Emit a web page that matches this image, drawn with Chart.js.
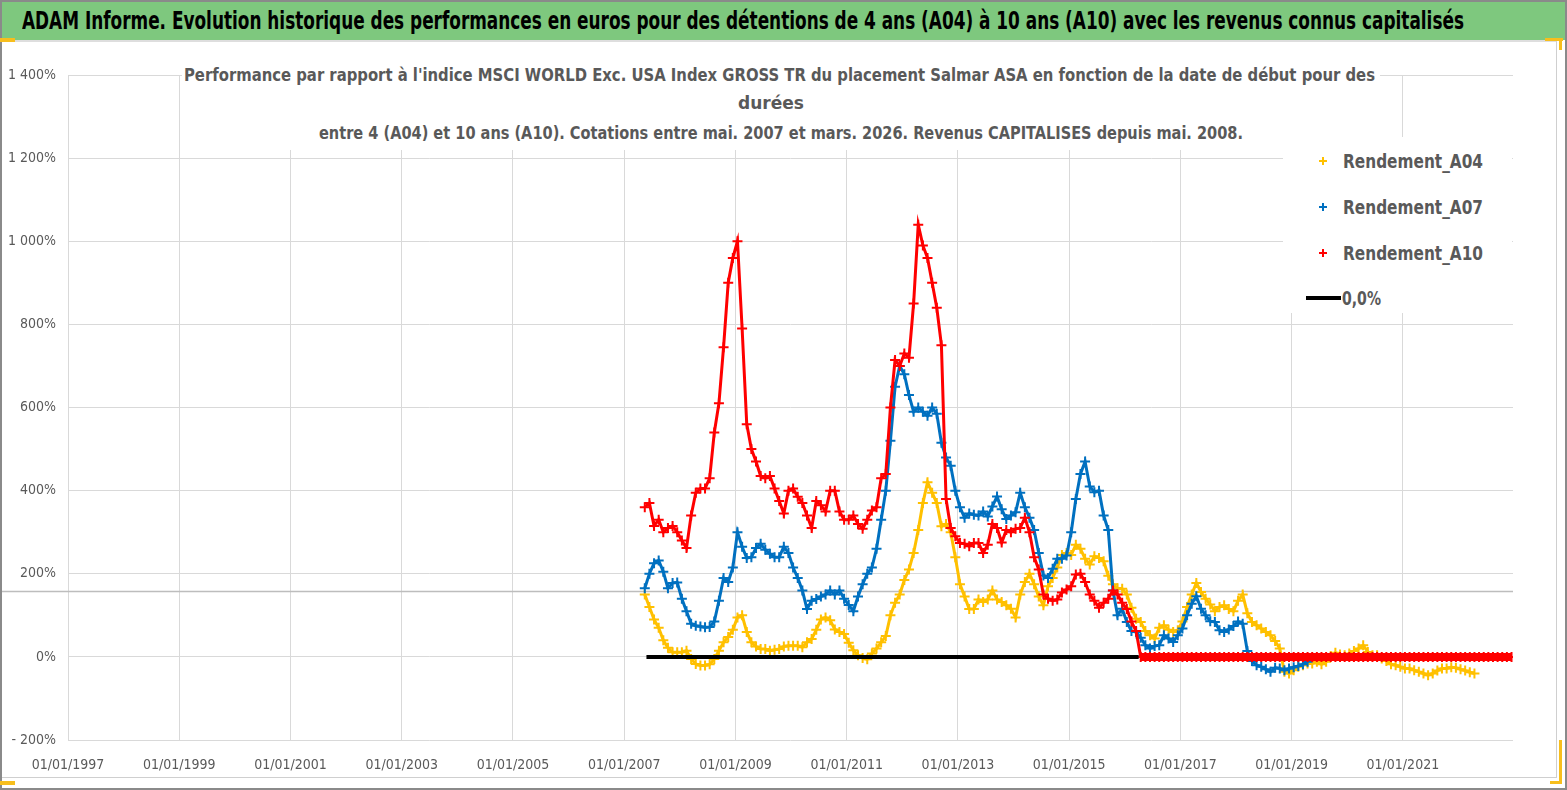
<!DOCTYPE html>
<html>
<head>
<meta charset="utf-8">
<script src="https://cdn.jsdelivr.net/npm/chart.js@4.4.1/dist/chart.umd.min.js"></script>
<style>
  html, body { margin: 0; padding: 0; background: #fff; }
  #frame { position: absolute; left: 0; top: 0; width: 1567px; height: 790px; overflow: hidden; background: #fff; }
  #border { position: absolute; left: 0; top: 0; width: 1567px; height: 790px; box-sizing: border-box; border: 2px solid #8a8a8a; pointer-events: none; z-index: 10; }
  #header { position: absolute; left: 2px; top: 2px; width: 1563px; height: 38px; background: #7ec87e; }
  #chartbox { position: absolute; left: 0; top: 40px; width: 1557px; height: 738px; box-sizing: border-box; border-top: 2px solid #dedede; border-right: 1px solid #cfcfcf; border-bottom: 1px solid #cfcfcf; }
  #wrap { position: absolute; left: 0; top: 42px; width: 1556px; height: 736px; }
  .txt { position: absolute; white-space: nowrap; transform-origin: 0 50%; font-family: 'Liberation Sans Narrow', 'DejaVu Sans Condensed', 'Open Sans', sans-serif; }
  #title { left: 22px; top: 6px; height: 30px; line-height: 30px; font-size: 24px; font-weight: bold; color: #000; }
  #subbox { position: absolute; left: 182px; top: 61px; width: 1198px; height: 89px; background: #fff; }
  .sub { font-size: 18px; font-weight: bold; color: #595959; height: 24px; line-height: 24px; }
  #legend { position: absolute; left: 1283px; top: 137px; width: 229px; height: 176px; background: #fff; }
  .leg { font-size: 19px; font-weight: bold; color: #595959; height: 26px; line-height: 26px; }
  .cross { position: absolute; width: 8px; height: 8px; }
  .cross:before { content: ''; position: absolute; left: 0; top: 3px; width: 8px; height: 2px; background: currentColor; }
  .cross:after { content: ''; position: absolute; left: 3px; top: 0; width: 2px; height: 8px; background: currentColor; }
  .handle { position: absolute; background: #f7be1d; z-index: 11; }
</style>
</head>
<body>
<div id="frame">
  <div id="header"></div>
  <div class="txt" id="title" data-w="1442">ADAM Informe. Evolution historique des performances en euros pour des détentions de 4 ans (A04) à 10 ans (A10) avec les revenus connus capitalisés</div>
  <div id="chartbox"></div>
  <div id="wrap"><canvas id="chart"></canvas></div>
  <div id="subbox"></div>
  <div class="txt sub" style="left:184px; top:63px;" data-w="1191">Performance par rapport à l'indice MSCI WORLD Exc. USA Index GROSS TR  du placement Salmar ASA en fonction de la date de début pour des</div>
  <div class="txt sub" style="left:738px; top:91px;" data-w="66">durées</div>
  <div class="txt sub" style="left:319px; top:121px;" data-w="924">entre 4 (A04) et 10 ans (A10). Cotations entre mai. 2007 et mars. 2026. Revenus CAPITALISES depuis mai. 2008.</div>
  <div id="legend"></div>
  <div class="cross" style="left:1319px; top:157px; color:#ffc000;"></div>
  <div class="txt leg" style="left:1343px; top:148px;" data-w="140">Rendement_A04</div>
  <div class="cross" style="left:1319px; top:203px; color:#0070c0;"></div>
  <div class="txt leg" style="left:1343px; top:194px;" data-w="140">Rendement_A07</div>
  <div class="cross" style="left:1319px; top:249px; color:#ff0000;"></div>
  <div class="txt leg" style="left:1343px; top:240px;" data-w="140">Rendement_A10</div>
  <div style="position:absolute; left:1306px; top:296px; width:35px; height:4px; background:#000;"></div>
  <div class="txt leg" style="left:1342px; top:285px;" data-w="39">0,0%</div>
  <div class="handle" style="left:0px; top:38px; width:15px; height:4px;"></div>
  <div class="handle" style="left:1545px; top:38px; width:18px; height:3px;"></div>
  <div class="handle" style="left:1559px; top:38px; width:3px; height:12px;"></div>
  <div class="handle" style="left:1559px; top:740px; width:3px; height:44px;"></div>
  <div class="handle" style="left:1550px; top:781px; width:12px; height:3px;"></div>
  <div class="handle" style="left:0px; top:781px; width:15px; height:4px;"></div>
  <div id="border"></div>
</div>
<script>
// ---------- DATA (monthly, start = May 2007) ----------
const seriesStart = 2007.37;          // decimal year of first start date
const stepYears = 1 / 12;             // one value per month

const rendementA04 = [150,120,90,70,40,22,11,11,11,15,
 -5,-17,-21,-21,-18,-5,15,35,48,65,
 95,100,60,35,25,19,19,15,17,19,
 25,27,27,27,23,35,43,65,90,95,
 88,66,60,55,34,16,4,-3,-6,8,
 20,35,50,100,130,150,185,210,250,305,
 370,420,395,370,314,320,300,240,175,145,
 115,115,138,132,138,160,138,132,124,116,
 95,150,180,200,175,145,124,170,190,215,
 245,250,245,270,260,236,222,242,238,230,
 195,175,165,164,150,118,92,84,62,52,
 44,70,76,65,60,64,85,120,150,178,
 156,140,126,110,120,124,115,110,135,150,
 105,84,76,68,60,52,38,20,-36,-40,
 -32,-24,-20,-16,-16,-12,-18,-12,2,10,
 6,4,8,14,20,28,12,4,4,-4,
 -10,-18,-20,-24,-28,-28,-32,-36,-40,-44,
 -40,-33,-28,-28,-25,-26,-30,-33,-37,-40];

const rendementA07 = [165,200,225,232,205,165,178,179,140,110,
 80,75,73,71,72,85,135,190,180,215,
 300,265,238,240,262,272,258,248,240,240,
 265,250,215,190,160,115,135,139,145,150,
 160,150,160,140,125,110,145,175,200,215,
 260,330,400,520,650,700,680,630,590,600,
 590,580,600,585,515,480,460,400,360,335,
 345,342,340,350,338,362,386,355,332,340,
 348,395,360,335,305,250,196,190,212,236,
 236,244,300,380,440,470,410,396,400,340,
 305,160,100,116,84,62,60,46,28,20,
 26,28,52,44,36,52,68,100,128,146,
 116,100,86,84,64,60,66,74,85,80,
 14,-10,-20,-24,-30,-36,-26,-28,-32,-28,
 -25,-22,-18,-12];

const rendementA10 = [360,370,315,330,300,310,315,300,280,262,
 340,395,405,405,430,540,610,745,900,960,
 1000,790,560,500,470,435,430,435,405,375,
 345,400,405,385,370,340,310,375,365,350,
 400,400,350,330,330,340,320,308,330,352,
 360,430,440,600,714,700,730,720,850,1040,
 990,960,900,840,750,380,310,290,274,272,
 266,274,274,250,270,320,310,275,305,300,
 308,310,335,300,240,210,150,140,135,138,
 155,162,170,198,200,180,150,135,118,130,
 140,160,150,130,115,85,62,
 0,0,0,0,0,0,0,0,0,0,
 0,0,0,0,0,0,0,0,0,0,
 0,0,0,0,0,0,0,0,0,0,
 0,0,0,0,0,0,0,0,0,0,
 0,0,0,0,0,0,0,0,0,0,
 0,0,0,0,0,0,0,0,0,0,
 0,0,0,0,0,0,0,0,0,0,
 0,0,0,0,0,0,0,0,0,0,0];

const zeroLineX = [2007.40, 2016.25];
const zeroLineY = [0, 0];

const xTickYears  = [1997, 1999, 2001, 2003, 2005, 2007, 2009, 2011, 2013, 2015, 2017, 2019, 2021];
const xTickLabels = ['01/01/1997','01/01/1999','01/01/2001','01/01/2003','01/01/2005','01/01/2007','01/01/2009','01/01/2011','01/01/2013','01/01/2015','01/01/2017','01/01/2019','01/01/2021'];
const yTickValues = [-200, 0, 200, 400, 600, 800, 1000, 1200, 1400];
const yTickLabels = ['- 200%','0%','200%','400%','600%','800%','1 000%','1 200%','1 400%'];
const xMin = 1997, xMax = 2022.98;
const grayRefLine = 158;   // thin grey horizontal rule visible across the picture

// ---------- build points ----------
function toPoints(arr) { return arr.map((v, k) => ({ x: seriesStart + k * stepYears, y: v })); }

const FONT = "'Liberation Sans Narrow', 'DejaVu Sans Condensed', 'Open Sans', sans-serif";

const refLinePlugin = {
  id: 'refLine',
  beforeDatasetsDraw(chart) {
    const { ctx, chartArea, scales } = chart;
    const y = Math.round(scales.y.getPixelForValue(grayRefLine)) + 0.5;
    ctx.save();
    ctx.strokeStyle = '#bdbdbd';
    ctx.lineWidth = 1.5;
    ctx.beginPath();
    ctx.moveTo(0, y);
    ctx.lineTo(chartArea.right, y);
    ctx.stroke();
    ctx.restore();
  }
};

function cloud(label, arr, color, order) {
  return {
    label: label,
    data: toPoints(arr),
    pointStyle: 'cross', pointRadius: 5, pointBorderWidth: 2,
    pointBorderColor: color, pointBackgroundColor: color,
    borderColor: color, backgroundColor: color,
    showLine: true, borderWidth: 3, tension: 0,
    order: order
  };
}

const a10Set = cloud('Rendement_A10', rendementA10, '#ff0000', 1);
a10Set.segment = {
  borderWidth: c => (c.p0.parsed.y === 0 && c.p1.parsed.y === 0) ? 8 : 3
};

new Chart(document.getElementById('chart'), {
  type: 'scatter',
  data: {
    datasets: [
      {
        label: '0,0%', type: 'line',
        data: zeroLineX.map((x, i) => ({ x: x, y: zeroLineY[i] })),
        borderColor: '#000', borderWidth: 4, pointRadius: 0, showLine: true, order: 0
      },
      a10Set,
      cloud('Rendement_A07', rendementA07, '#0070c0', 2),
      cloud('Rendement_A04', rendementA04, '#ffc000', 3)
    ]
  },
  options: {
    responsive: true,
    maintainAspectRatio: false,
    animation: false,
    devicePixelRatio: 1,
    layout: { padding: { left: 0, right: 43, top: 33, bottom: 0 } },
    plugins: { legend: { display: false }, title: { display: false }, tooltip: { enabled: false } },
    scales: {
      x: {
        type: 'linear', min: xMin, max: xMax,
        afterBuildTicks: s => { s.ticks = xTickYears.map(v => ({ value: v })); },
        afterFit: s => { s.height = 38; },
        grid: { color: '#d9d9d9', lineWidth: 1, drawTicks: false },
        border: { display: false },
        ticks: {
          autoSkip: false, maxRotation: 0, padding: 17, color: '#595959',
          font: { family: FONT, size: 14 },
          callback: (v, i) => xTickLabels[i]
        }
      },
      y: {
        min: -200, max: 1400,
        afterBuildTicks: s => { s.ticks = yTickValues.map(v => ({ value: v })); },
        afterFit: s => { s.width = 68; },
        grid: { color: '#d9d9d9', lineWidth: 1, drawTicks: false },
        border: { display: false },
        ticks: {
          padding: 12, color: '#595959',
          font: { family: FONT, size: 14 },
          callback: v => yTickLabels[yTickValues.indexOf(v)]
        }
      }
    }
  },
  plugins: [refLinePlugin]
});

// fit the HTML text lines to the widths measured on the reference
function fitText() {
  document.querySelectorAll('[data-w]').forEach(el => {
    el.style.transform = 'none';
    const w = el.getBoundingClientRect().width;
    const t = parseFloat(el.dataset.w);
    if (w > 0) el.style.transform = 'scaleX(' + (t / w) + ')';
  });
}
fitText();
if (document.fonts && document.fonts.ready) document.fonts.ready.then(fitText);
</script>
</body>
</html>
